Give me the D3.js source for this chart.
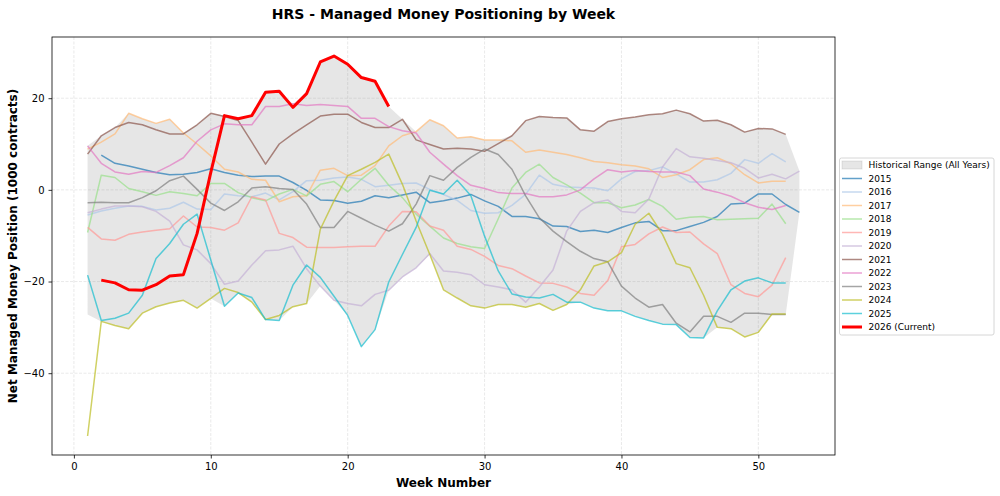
<!DOCTYPE html>
<html>
<head>
<meta charset="utf-8">
<script src="https://cdn.jsdelivr.net/npm/d3@7"></script>
<style>
  body { margin: 0; background: #fff; }
  svg { font-family: "DejaVu Sans", sans-serif; }
</style>
</head>
<body>
<div id="wrapper"></div>
<script>
// weekly net positions, 1000 contracts
const years = ["2015","2016","2017","2018","2019","2020","2021","2022","2023","2024","2025"];
const colors = ["#1f77b4","#aec7e8","#ffbb78","#98df8a","#ff9896","#c5b0d5","#8c564b","#e377c2","#7f7f7f","#bcbd22","#17becf"];
const firstWeek = [2,1,1,1,1,1,1,1,1,1,1];

const v2015 = [7.6,5.8,5.2,4.5,3.8,3.3,3.4,3.8,4.6,3.8,3.2,2.9,3.0,3.0,1.6,-0.1,-2.2,-2.3,-2.9,-2.5,-1.3,-1.7,-1.1,-0.5,-2.8,-2.4,-1.8,-1.0,-2.4,-3.6,-5.8,-5.8,-6.3,-7.9,-8.0,-9.1,-8.8,-9.3,-8.2,-7.2,-6.9,-8.9,-8.9,-8.0,-7.1,-5.8,-3.1,-2.9,-0.9,-0.9,-3.2,-4.9];
const v2016 = [-5.5,-4.6,-4.0,-3.5,-3.6,-4.4,-4.0,-2.7,-4.2,-4.3,-0.9,-1.3,-1.5,-0.7,-2.2,-0.4,2.0,2.1,2.6,2.8,2.3,0.7,1.0,1.4,1.5,0.1,-1.0,-2.3,-4.5,-5.1,-5.0,-3.4,-1.0,3.2,1.2,0.6,0.5,0.4,-0.2,2.4,4.0,4.2,5.0,3.5,1.7,1.7,2.2,3.6,6.6,5.8,7.9,6.1];
const v2017 = [8.9,10.4,12.2,16.7,15.5,14.5,15.4,12.4,10.0,7.4,4.5,3.9,2.3,2.1,-2.6,-1.5,-1.3,4.3,4.7,3.1,3.2,5.3,9.6,11.8,12.7,15.3,14.0,11.3,11.6,10.9,10.9,10.7,8.2,8.7,8.2,7.7,7.0,6.2,5.9,5.5,5.2,4.6,2.7,3.3,4.4,6.6,7.0,5.7,3.3,1.5,1.9,1.9];
const v2018 = [-9.3,3.2,2.7,0.3,-0.4,-1.2,-0.4,-0.8,-1.3,1.4,1.4,-0.6,-1.7,-2.4,-0.9,0.1,-1.3,1.2,1.8,-0.4,2.3,4.7,1.0,-1.7,-5.3,-7.9,-10.5,-11.7,-12.4,-12.8,-6.3,0.4,3.8,5.6,2.7,1.1,-0.7,-2.8,-2.8,-3.9,-3.3,-2.1,-3.6,-6.4,-6.0,-5.8,-6.5,-6.4,-6.3,-6.2,-3.1,-7.4];
const v2019 = [-8.2,-10.7,-11.0,-9.7,-9.2,-8.8,-8.5,-5.7,-8.1,-8.2,-8.8,-7.2,-1.5,-2.2,-9.5,-10.4,-12.5,-12.6,-12.6,-12.4,-12.3,-12.3,-7.9,-4.7,-4.8,-7.9,-8.8,-12.3,-13.0,-14.5,-16.5,-17.2,-18.8,-20.3,-20.4,-21.2,-22.6,-23.0,-19.8,-12.4,-11.9,-9.6,-8.1,-9.3,-9.2,-11.8,-13.9,-20.7,-22.6,-23.3,-20.8,-14.8];
const v2020 = [-5.0,-4.2,-3.5,-3.5,-3.7,-4.7,-6.8,-12.0,-13.1,-16.1,-20.6,-19.9,-16.4,-13.3,-13.1,-12.3,-17.2,-21.0,-24.1,-24.8,-25.3,-22.8,-21.9,-19.0,-17.0,-13.9,-17.7,-18.0,-18.5,-20.7,-21.2,-21.8,-24.5,-21.2,-17.5,-9.0,-4.7,-2.8,-2.2,-4.7,-5.0,-2.0,5.0,9.0,7.2,6.9,6.4,5.9,4.7,2.6,3.4,2.4,4.1];
const v2021 = [7.8,11.8,13.6,14.7,14.2,13.1,12.2,12.2,14.2,16.7,16.0,15.1,10.4,5.6,10.0,12.2,14.2,16.1,16.5,16.5,14.7,13.6,13.6,15.4,10.9,9.9,8.9,9.1,8.9,8.4,10.1,11.8,15.1,16.0,15.8,15.7,13.1,12.8,14.9,15.5,15.9,16.4,16.6,17.4,16.6,15.0,15.2,14.2,12.6,13.4,13.3,12.1];
const v2022 = [9.6,5.8,3.9,3.4,4.0,3.8,5.3,7.0,10.6,13.1,14.4,14.2,14.2,18.2,18.2,18.8,18.4,18.6,18.4,18.2,15.6,15.6,13.8,12.9,12.4,8.2,5.6,3.1,1.0,0.3,-0.6,-0.8,-0.8,-1.5,-1.5,-1.1,0.0,2.4,4.4,3.9,4.2,4.0,3.9,3.9,3.1,0.2,-0.5,-1.4,-2.8,-3.8,-4.3,-3.4];
const v2023 = [-2.8,-2.7,-2.8,-2.8,-1.7,-0.2,2.0,3.0,0.1,-2.9,-4.5,-2.6,0.4,0.7,0.3,0.1,-3.1,-8.2,-8.2,-4.7,-6.2,-7.7,-9.0,-7.4,-3.1,3.1,2.1,4.9,7.1,8.9,7.7,4.5,-1.3,-6.1,-9.0,-11.3,-13.4,-15.0,-15.7,-21.0,-23.6,-25.6,-25.0,-29.1,-31.0,-27.6,-27.6,-28.9,-26.9,-26.9,-27.2,-27.2];
const v2024 = [-53.7,-28.7,-29.6,-30.3,-26.9,-25.5,-24.7,-24.1,-25.8,-23.7,-21.5,-22.4,-24.5,-28.3,-27.4,-25.5,-24.8,-8.6,-2.4,3.1,4.5,6.0,7.8,1.2,-6.8,-14.1,-21.8,-23.6,-25.3,-25.8,-25.0,-25.0,-25.6,-24.8,-26.3,-25.0,-21.8,-16.6,-15.7,-13.7,-7.5,-5.1,-9.7,-16.1,-17.0,-23.0,-30.0,-30.3,-32.1,-31.1,-27.1,-27.1];
const v2025 = [-18.6,-28.5,-28.0,-26.9,-23.0,-15.0,-11.7,-7.5,-5.3,-15.3,-25.4,-22.5,-23.5,-28.3,-28.5,-20.8,-16.4,-19.1,-23.2,-27.4,-34.2,-30.5,-20.1,-14.1,-8.2,-0.1,-0.9,2.1,-1.3,-10.1,-17.7,-22.7,-23.4,-23.6,-22.8,-24.5,-24.5,-25.8,-26.4,-26.4,-27.6,-28.5,-29.3,-29.4,-32.2,-32.3,-26.4,-21.8,-19.9,-19.2,-20.3,-20.3];
const history = [v2015,v2016,v2017,v2018,v2019,v2020,v2021,v2022,v2023,v2024,v2025];

// current year, starts week 2
const currentLabel = "2026 (Current)";
const currentFirstWeek = 2;
const v2026 = [-19.7,-20.3,-21.8,-21.9,-20.7,-18.8,-18.5,-9.5,3.8,16.2,15.5,16.2,21.3,21.5,18.0,21.0,27.9,29.2,27.4,24.5,23.7,18.2];

// week 1 floor of the range comes from older years not drawn as lines
const rangeFloorWeek1 = -27.2;

const xTicks = [0,10,20,30,40,50];
const yTicks = [-40,-20,0,20];

const drawChart = () => {
    const width = 1000, height = 496;
    const plot = { left: 52, right: 835, top: 37, bottom: 455 };

    const toPoints = (vals, start) => vals.map((v, i) => ({ week: start + i, value: v }));
    const series = history.map((vals, i) => ({ name: years[i], color: colors[i], points: toPoints(vals, firstWeek[i]) }));
    const current = toPoints(v2026, currentFirstWeek);

    // band: min / max over all years per week
    const allPts = series.flatMap(s => s.points).concat(current);
    const byWeek = d3.rollups(allPts, v => ({ lo: d3.min(v, d => d.value), hi: d3.max(v, d => d.value) }), d => d.week)
        .map(([week, r]) => ({ week, lo: r.lo, hi: r.hi }))
        .sort((a, b) => a.week - b.week);
    byWeek.forEach(d => { if (d.week === 1) d.lo = rangeFloorWeek1; });

    const svg = d3.select("#wrapper").append("svg")
        .attr("width", width).attr("height", height);

    const xScale = d3.scaleLinear().domain([-1.6, 55.6]).range([plot.left, plot.right]);
    const yScale = d3.scaleLinear().domain([-57.85, 33.35]).range([plot.bottom, plot.top]);

    // grid
    const grid = svg.append("g");
    grid.selectAll(".gx").data(xTicks).join("line")
        .attr("x1", d => xScale(d)).attr("x2", d => xScale(d))
        .attr("y1", plot.top).attr("y2", plot.bottom);
    grid.selectAll(".gy").data(yTicks).join("line")
        .attr("y1", d => yScale(d)).attr("y2", d => yScale(d))
        .attr("x1", plot.left).attr("x2", plot.right);
    grid.selectAll("line")
        .attr("stroke", "#b0b0b0").attr("stroke-opacity", 0.35)
        .attr("stroke-width", 0.8).attr("stroke-dasharray", "3,1.5");

    // range band
    const area = d3.area().x(d => xScale(d.week)).y0(d => yScale(d.lo)).y1(d => yScale(d.hi));
    svg.append("path").datum(byWeek)
        .attr("d", area).attr("fill", "#808080").attr("fill-opacity", 0.2);

    const line = d3.line().x(d => xScale(d.week)).y(d => yScale(d.value));

    svg.append("g").selectAll("path").data(series).join("path")
        .attr("d", d => line(d.points))
        .attr("fill", "none")
        .attr("stroke", d => d.color)
        .attr("stroke-opacity", 0.7)
        .attr("stroke-width", 1.5)
        .attr("stroke-linejoin", "round");

    svg.append("path").datum(current)
        .attr("d", line)
        .attr("fill", "none").attr("stroke", "red")
        .attr("stroke-width", 3).attr("stroke-linejoin", "round");

    // axes
    const xAxis = d3.axisBottom(xScale).tickValues(xTicks).tickSize(3.5).tickPadding(4);
    const yAxis = d3.axisLeft(yScale).tickValues(yTicks).tickSize(3.5).tickPadding(4);
    const gx = svg.append("g").attr("transform", `translate(0,${plot.bottom})`).call(xAxis);
    const gy = svg.append("g").attr("transform", `translate(${plot.left},0)`).call(yAxis);
    [gx, gy].forEach(g => {
        g.select(".domain").remove();
        g.selectAll("text").attr("font-size", 10).attr("fill", "#000").attr("font-family", "DejaVu Sans");
        g.selectAll("line").attr("stroke", "#000").attr("stroke-width", 0.8);
    });

    svg.append("rect")
        .attr("x", plot.left).attr("y", plot.top)
        .attr("width", plot.right - plot.left).attr("height", plot.bottom - plot.top)
        .attr("fill", "none").attr("stroke", "#000").attr("stroke-width", 0.8);

    // labels
    svg.append("text")
        .attr("x", (plot.left + plot.right) / 2).attr("y", 19)
        .attr("text-anchor", "middle").attr("font-size", 14).attr("font-weight", "bold")
        .text("HRS - Managed Money Positioning by Week");
    svg.append("text")
        .attr("x", (plot.left + plot.right) / 2).attr("y", 487)
        .attr("text-anchor", "middle").attr("font-size", 12).attr("font-weight", "bold")
        .text("Week Number");
    svg.append("text")
        .attr("transform", `translate(17,${(plot.top + plot.bottom) / 2}) rotate(-90)`)
        .attr("text-anchor", "middle").attr("font-size", 12).attr("font-weight", "bold")
        .text("Net Managed Money Position (1000 contracts)");

    // legend
    const legend = svg.append("g").attr("transform", "translate(839.5,158)");
    legend.append("rect")
        .attr("width", 154.5).attr("height", 177).attr("rx", 2)
        .attr("fill", "#fff").attr("fill-opacity", 0.8)
        .attr("stroke", "#cccccc").attr("stroke-width", 0.8);

    const items = [{ name: "Historical Range (All Years)", type: "band" }]
        .concat(series.map(s => ({ name: s.name, type: "line", color: s.color })))
        .concat([{ name: currentLabel, type: "current" }]);

    const rows = legend.selectAll(".item").data(items).join("g")
        .attr("transform", (d, i) => `translate(0,${7 + i * 13.5})`);

    rows.filter(d => d.type === "band").append("rect")
        .attr("x", 2.5).attr("y", -4).attr("width", 20).attr("height", 8)
        .attr("fill", "#808080").attr("fill-opacity", 0.2)
        .attr("stroke", "#808080").attr("stroke-opacity", 0.2);
    rows.filter(d => d.type === "line").append("line")
        .attr("x1", 2.5).attr("x2", 22.5)
        .attr("stroke", d => d.color).attr("stroke-opacity", 0.7).attr("stroke-width", 1.5);
    rows.filter(d => d.type === "current").append("line")
        .attr("x1", 2.5).attr("x2", 22.5)
        .attr("stroke", "red").attr("stroke-width", 3);

    rows.append("text")
        .attr("x", 29).attr("y", 3.3)
        .attr("font-size", 9).attr("fill", "#000")
        .text(d => d.name);
};

drawChart();
</script>
</body>
</html>
